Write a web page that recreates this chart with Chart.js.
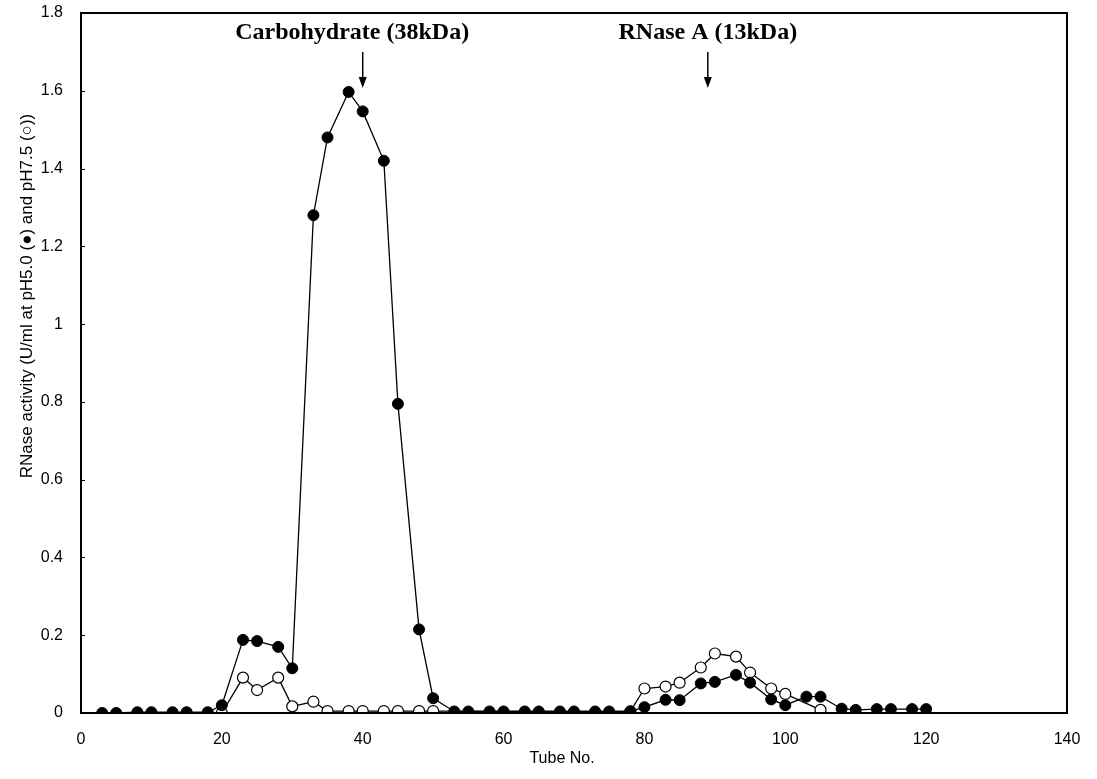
<!DOCTYPE html>
<html>
<head>
<meta charset="utf-8">
<script src="https://cdn.jsdelivr.net/npm/chart.js@4.4.1/dist/chart.umd.min.js"></script>
<style>
html,body{margin:0;padding:0;background:#ffffff;}
#wrap{width:1097px;height:779px;position:relative;}
</style>
</head>
<body>
<div id="wrap"><canvas id="c"></canvas></div>
<script>
// ---- data ----
const tubeNo = [3,5,8,10,13,15,18,20,23,25,28,30,33,35,38,40,43,45,48,50,53,55,58,60,63,65,68,70,73,75,78,80,83,85,88,90,93,95,98,100,103,105,108,110,113,115,118,120];
const activityPH50 = [0,0,0.002,0.002,0.002,0.002,0.002,0.02,0.188,0.185,0.17,0.115,1.28,1.48,1.597,1.547,1.42,0.795,0.215,0.038,0.004,0.004,0.004,0.004,0.004,0.004,0.004,0.004,0.004,0.004,0.004,0.015,0.034,0.033,0.076,0.08,0.098,0.078,0.035,0.02,0.042,0.042,0.011,0.008,0.01,0.01,0.01,0.01];
const tubeNoOpen = [20,23,25,28,30,33,35,38,40,43,45,48,50,78,80,83,85,88,90,93,95,98,100,105];
const activityPH75 = [0,0.091,0.059,0.091,0.017,0.029,0.005,0.005,0.005,0.005,0.005,0.005,0.005,0.004,0.063,0.068,0.078,0.117,0.153,0.145,0.104,0.063,0.049,0.008];
const xTicks = [0,20,40,60,80,100,120,140];
const yTicks = [0,0.2,0.4,0.6,0.8,1,1.2,1.4,1.6,1.8];
const markerTube = [40, 89];
const markerLabelTube = [38.5, 89];
const markerLabels = ["Carbohydrate (38kDa)", "RNase A (13kDa)"];
const xTitle = "Tube No.";
const yTitle = "RNase activity (U/ml at pH5.0 (\u25CF) and pH7.5 (\u25CB))";

const toPoints = (xs, ys) => xs.map((x, i) => ({x: x, y: ys[i]}));

const framePlugin = {
  id: 'frame',
  afterDraw(chart) {
    const ctx = chart.ctx, a = chart.chartArea;
    const xs = chart.scales.x, ys = chart.scales.y;
    ctx.save();
    // frame
    ctx.strokeStyle = '#000';
    ctx.lineWidth = 2;
    ctx.strokeRect(a.left, a.top, a.right - a.left, a.bottom - a.top);
    // inward y ticks
    ctx.lineWidth = 1;
    yTicks.forEach(v => {
      const py = Math.round(ys.getPixelForValue(v)) + 0.5;
      ctx.beginPath();
      ctx.moveTo(a.left, py);
      ctx.lineTo(a.left + 4, py);
      ctx.stroke();
    });
    // markers
    ctx.fillStyle = '#000';
    ctx.font = 'bold 24px "Liberation Serif", "Times New Roman", serif';
    ctx.textAlign = 'center';
    ctx.textBaseline = 'middle';
    markerTube.forEach((t, i) => {
      const px = xs.getPixelForValue(t);
      ctx.fillText(markerLabels[i], xs.getPixelForValue(markerLabelTube[i]), a.top + 20);
      ctx.lineWidth = 1.5;
      ctx.beginPath();
      ctx.moveTo(px, a.top + 39);
      ctx.lineTo(px, a.top + 66);
      ctx.stroke();
      ctx.beginPath();
      ctx.moveTo(px - 4, a.top + 64);
      ctx.lineTo(px + 4, a.top + 64);
      ctx.lineTo(px, a.top + 75);
      ctx.closePath();
      ctx.fill();
    });
    // axis titles
    ctx.font = '16px "Liberation Sans", Arial, sans-serif';
    ctx.textBaseline = 'middle';
    ctx.fillText(xTitle, xs.getPixelForValue(68.3), a.bottom + 46);
    ctx.save();
    ctx.font = '17px "Liberation Sans", Arial, sans-serif';
    ctx.translate(a.left - 54, a.top + 283);
    ctx.rotate(-Math.PI / 2);
    ctx.fillText(yTitle, 0, 0);
    ctx.restore();
    ctx.restore();
  }
};

new Chart(document.getElementById('c'), {
  type: 'scatter',
  data: {
    datasets: [
      {
        label: 'pH5.0',
        data: toPoints(tubeNo, activityPH50),
        showLine: true,
        borderColor: '#000',
        borderWidth: 1.3,
        backgroundColor: '#000',
        pointBackgroundColor: '#000',
        pointBorderColor: '#000',
        pointRadius: 5.5,
        pointBorderWidth: 1,
        tension: 0
      },
      {
        label: 'pH7.5',
        data: toPoints(tubeNoOpen, activityPH75),
        showLine: true,
        borderColor: '#000',
        borderWidth: 1.3,
        backgroundColor: '#fff',
        pointBackgroundColor: '#fff',
        pointBorderColor: '#000',
        pointRadius: 5.5,
        pointBorderWidth: 1.2,
        tension: 0
      }
    ]
  },
  options: {
    responsive: true,
    maintainAspectRatio: false,
    animation: false,
    layout: { padding: { left: 0, right: 30, top: 13, bottom: 0 } },
    plugins: { legend: { display: false }, tooltip: { enabled: false } },
    scales: {
      x: {
        type: 'linear',
        min: 0, max: 140,
        grid: { display: false, drawTicks: false },
        border: { display: true, color: '#000', width: 2 },
        afterBuildTicks: s => { s.ticks = xTicks.map(v => ({value: v})); },
        afterFit: s => { s.height = 66; s.paddingLeft = 0; s.paddingRight = 0; },
        ticks: {
          color: '#000',
          padding: 17,
          maxRotation: 0,
          font: { family: '"Liberation Sans", Arial, sans-serif', size: 16 }
        }
      },
      y: {
        type: 'linear',
        min: 0, max: 1.8,
        grid: { display: false, drawTicks: false },
        border: { display: true, color: '#000', width: 2 },
        afterBuildTicks: s => { s.ticks = yTicks.map(v => ({value: v})); },
        afterFit: s => { s.width = 81; s.paddingTop = 0; s.paddingBottom = 0; },
        ticks: {
          color: '#000',
          padding: 18,
          font: { family: '"Liberation Sans", Arial, sans-serif', size: 16 },
          callback: v => String(v)
        }
      }
    }
  },
  plugins: [framePlugin]
});
</script>
</body>
</html>
